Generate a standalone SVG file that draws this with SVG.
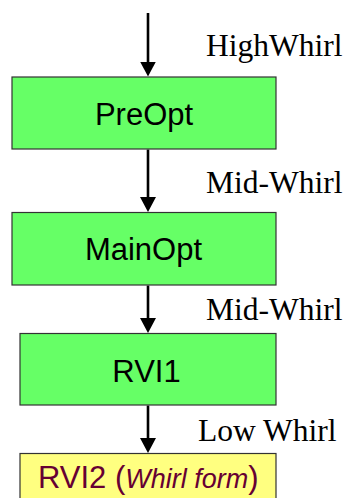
<svg xmlns="http://www.w3.org/2000/svg" width="347" height="498" viewBox="0 0 347 498">
<defs>
<style>
.box{stroke:#333333;stroke-width:1.2}
.g{fill:#66FF66}
.y{fill:#FFFF80}
.nt{font-family:"Liberation Sans",Arial,sans-serif;font-size:31px;fill:#000;text-anchor:middle}
.lb{font-family:"Liberation Serif","Times New Roman",serif;font-size:31.5px;fill:#000}
.cn{stroke:#000;stroke-width:2.6;fill:none;marker-end:url(#ah)}
</style>
<marker id="ah" markerUnits="userSpaceOnUse" markerWidth="15" markerHeight="16" refX="9" refY="8" orient="auto" viewBox="0 0 15 16">
<path d="M0,0 L15,8 L0,16 Z" fill="#000"/>
</marker>
</defs>
<rect width="347" height="498" fill="#fff"/>
<g id="connectors">
<path class="cn" d="M148,13 V70.5"/>
<path class="cn" d="M148,149.5 V206"/>
<path class="cn" d="M148,285.5 V327"/>
<path class="cn" d="M148,405.5 V447"/>
</g>
<g id="labels">
<text class="lb" x="206" y="56">HighWhirl</text>
<text class="lb" x="206" y="193">Mid-Whirl</text>
<text class="lb" x="206" y="320">Mid-Whirl</text>
<text class="lb" x="198" y="440.5">Low Whirl</text>
</g>
<g id="preopt">
<rect class="box g" x="12" y="77" width="264" height="72"/>
<text class="nt" x="144" y="125">PreOpt</text>
</g>
<g id="mainopt">
<rect class="box g" x="12" y="212.5" width="264" height="72.5"/>
<text class="nt" x="143.5" y="260">MainOpt</text>
</g>
<g id="rvi1">
<rect class="box g" x="20" y="333.5" width="256" height="71.5"/>
<text class="nt" x="146.5" y="381.5">RVI1</text>
</g>
<g id="rvi2">
<rect class="box y" x="20" y="453.5" width="256" height="60"/>
<text font-family="'Liberation Sans',Arial,sans-serif" font-size="31" fill="#660033" x="38" y="488">RVI2 (<tspan font-style="italic" font-size="27">Whirl form</tspan>)</text>
</g>
</svg>
